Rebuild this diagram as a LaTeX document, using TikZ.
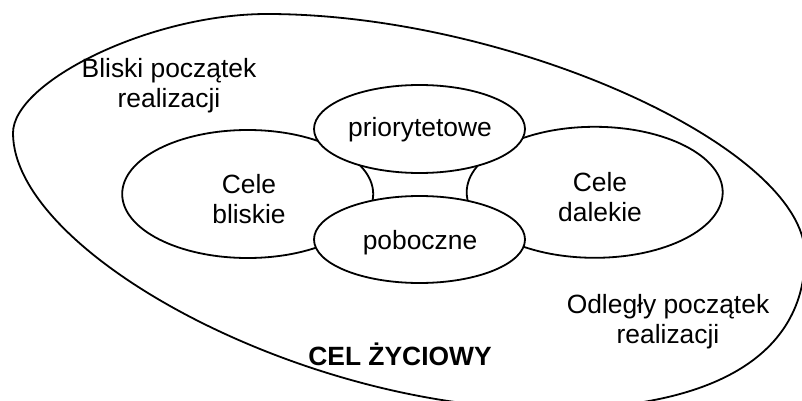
\documentclass[tikz,border=0pt]{standalone}
\usepackage{fontspec}
\setmainfont{Liberation Sans}
\usetikzlibrary{shapes.geometric}
\begin{document}
\begin{tikzpicture}[x=1pt,y=-1pt,
  ring/.style={draw=black, line width=1.8pt, ellipse, inner sep=0pt, fill=white},
  lbl/.style={anchor=base, inner sep=0pt, font=\fontsize{26.4}{30}\selectfont}]
\useasboundingbox (0,0) rectangle (802,401);
% outer life goal oval (free-form)
\coordinate (oL) at (13,133);
\coordinate (oT) at (267,14);
\coordinate (oR) at (805,255);
\coordinate (oB) at (550,409);
\draw[line width=1.8pt] (oL) .. controls (13,82) and (150,14) .. (oT)
  .. controls (509,14) and (805,147) .. (oR)
  .. controls (805,354) and (716,409) .. (oB)
  .. controls (300,409) and (13,252) .. (oL) -- cycle;
% near and far goals
\node[ring, minimum width=251pt, minimum height=128pt] (bliskie) at (247.7,194) {};
\node[ring, minimum width=256pt, minimum height=131pt] (dalekie) at (594.7,192.3) {};
% priority and side goals
\node[ring, minimum width=211pt, minimum height=88pt] (prior) at (419.5,129) {};
\node[ring, minimum width=211pt, minimum height=87pt] (pob) at (419.5,239.5) {};
% labels
\node[lbl] (t1a) at (169,78) {Bliski początek};
\node[lbl] (t1b) at (169,108) {realizacji};
\node[lbl] (t2a) at (249,193) {Cele};
\node[lbl] (t2b) at (249,223) {bliskie};
\node[lbl] (t3a) at (600,191) {Cele};
\node[lbl] (t3b) at (600,221) {dalekie};
\node[lbl] (t4) at (420,136) {priorytetowe};
\node[lbl] (t5) at (420,249) {poboczne};
\node[lbl] (t6a) at (668,313) {Odległy początek};
\node[lbl] (t6b) at (668,343) {realizacji};
\node[lbl, font=\fontsize{26.4}{30}\selectfont\bfseries] (t7) at (400,365) {CEL ŻYCIOWY};
\end{tikzpicture}
\end{document}
